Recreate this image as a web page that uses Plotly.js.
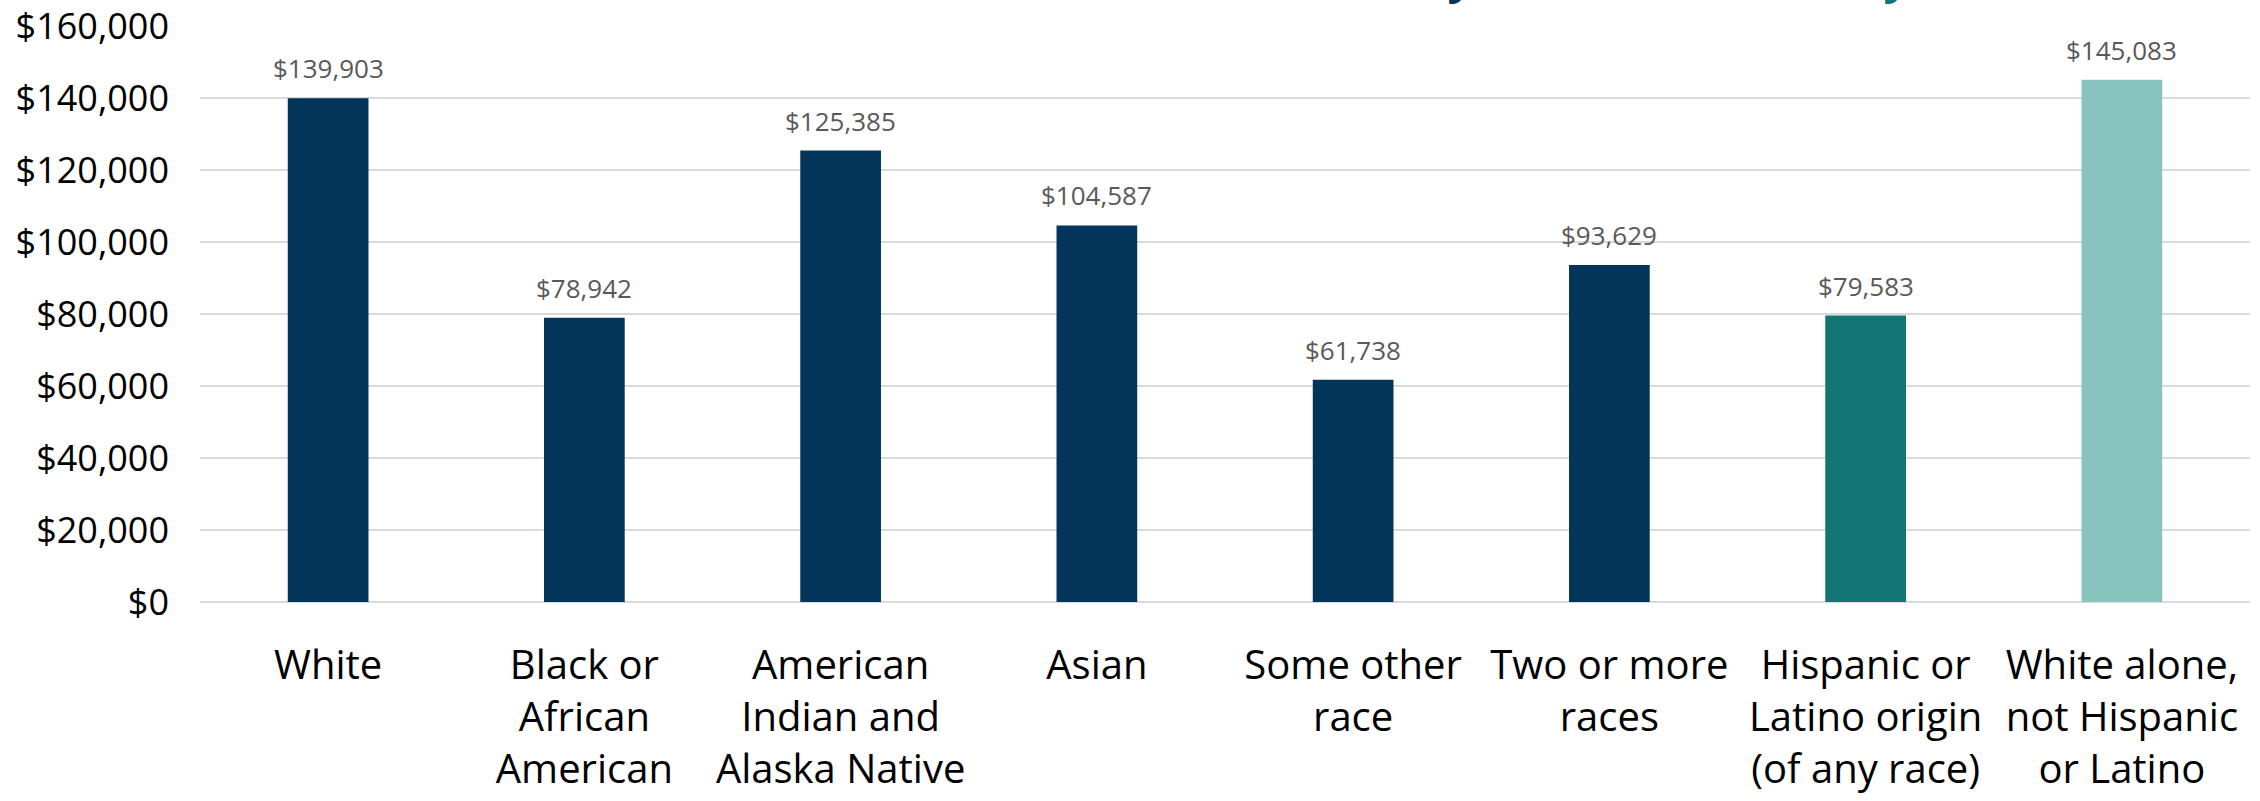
<!DOCTYPE html>
<html>
<head>
<meta charset="utf-8">
<script src="https://cdn.plot.ly/plotly-3.0.1.min.js"></script>
<style>html,body{margin:0;padding:0;background:#fff;}#chart{width:2260px;height:801px;}</style>
</head>
<body>
<div id="chart"></div>
<script>
const categories = [
  "White",
  "Black or<br>African<br>American",
  "American<br>Indian and<br>Alaska Native",
  "Asian",
  "Some other<br>race",
  "Two or more<br>races",
  "Hispanic or<br>Latino origin<br>(of any race)",
  "White alone,<br>not Hispanic<br>or Latino"
];
const incomes = [139903, 78942, 125385, 104587, 61738, 93629, 79583, 145083];
const barColors = ["#03355a", "#03355a", "#03355a", "#03355a", "#03355a", "#03355a", "#137574", "#86c4bd"];
const yTickVals = [0, 20000, 40000, 60000, 80000, 100000, 120000, 140000, 160000];
const yTickText = ["$0", "$20,000", "$40,000", "$60,000", "$80,000", "$100,000", "$120,000", "$140,000", "$160,000"];
const titleText = 'Median Household Income by Race and <span style="color:#137574">Ethnicity</span>';

const fmt = v => "$" + v.toLocaleString("en-US");

const trace = {
  type: "bar",
  x: categories,
  y: incomes,
  marker: {color: barColors, line: {width: 0}},
  hoverinfo: "none"
};

const annotations = categories.map((c, i) => ({
  x: c, y: incomes[i], xref: "x", yref: "y",
  text: fmt(incomes[i]), showarrow: false,
  yanchor: "bottom", yshift: 10,
  font: {family: "Open Sans", size: 26, color: "#595959"}
}));

annotations.push({
  xref: "paper", yref: "paper", x: 0.835, y: 1.0, yshift: 18,
  xanchor: "right", yanchor: "bottom",
  text: titleText, showarrow: false,
  font: {family: "Open Sans", size: 46, color: "#03355a", weight: 700}
});

const layout = {
  width: 2260, height: 801,
  margin: {l: 200, r: 10, t: 26, b: 199},
  paper_bgcolor: "#ffffff", plot_bgcolor: "#ffffff",
  bargap: 0.685,
  showlegend: false,
  font: {family: "Open Sans", color: "#000000"},
  xaxis: {
    type: "category",
    tickfont: {family: "Open Sans", size: 40, color: "#000000"},
    showgrid: false, zeroline: false, showline: false,
    ticks: "", ticklabelstandoff: 36, fixedrange: true
  },
  yaxis: {
    range: [0, 160000],
    tickvals: yTickVals, ticktext: yTickText,
    tickfont: {family: "Open Sans", size: 36, color: "#000000"},
    showgrid: true, gridcolor: "#d9d9d9", gridwidth: 2.5,
    zeroline: true, zerolinecolor: "#d9d9d9", zerolinewidth: 2.5,
    showline: false, ticks: "", ticklabelstandoff: 30, fixedrange: true
  },
  annotations: annotations
};

Plotly.newPlot("chart", [trace], layout, {displayModeBar: false, staticPlot: true});
</script>
</body>
</html>
